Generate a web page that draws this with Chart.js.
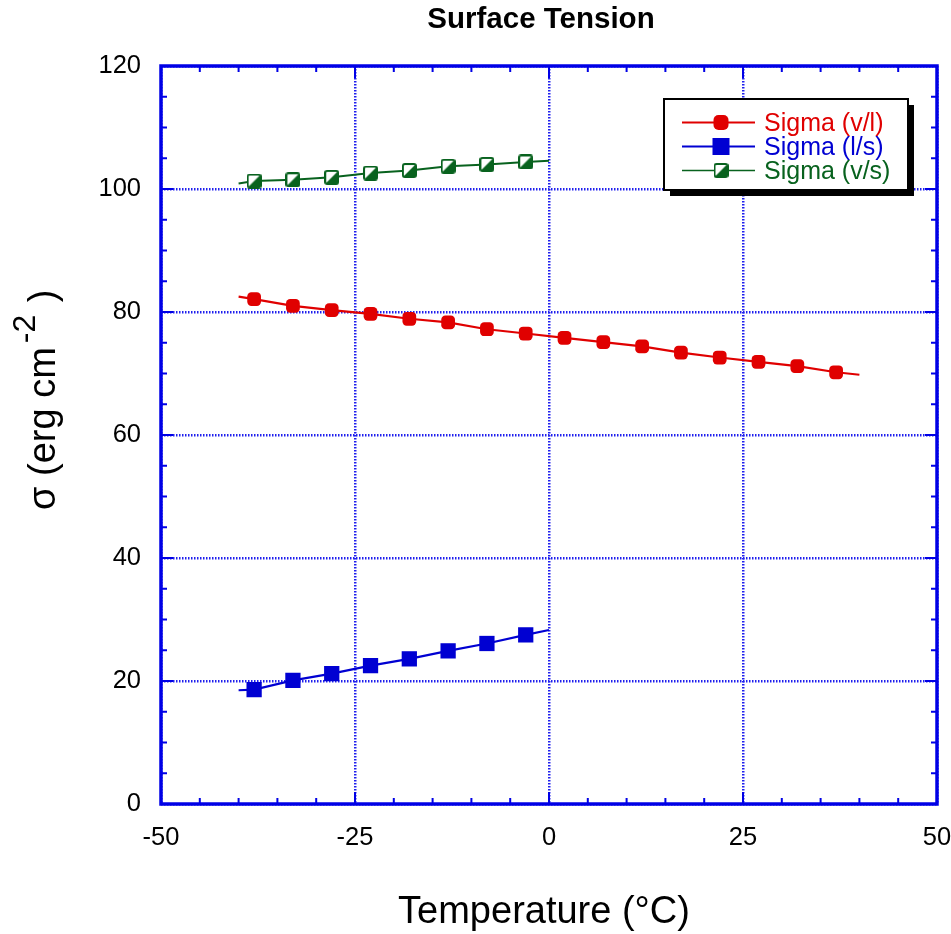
<!DOCTYPE html>
<html>
<head>
<meta charset="utf-8">
<title>Surface Tension</title>
<script src="https://cdn.jsdelivr.net/npm/chart.js@4.4.1/dist/chart.umd.min.js"></script>
<style>
  html, body { margin: 0; padding: 0; background: #fff; }
  #wrap { position: relative; width: 951px; height: 934px; }
</style>
</head>
<body>
<div id="wrap"><canvas id="chart"></canvas></div>
<script>
// Temperatures (°C) of the tabulated points
const tempVL = [-38, -33, -28, -23, -18, -13, -8, -3, 2, 7, 12, 17, 22, 27, 32, 37];
const tempSolid = [-38, -33, -28, -23, -18, -13, -8, -3];

// Surface tension, erg cm^-2
const sigmaVL = [82.1, 81.0, 80.3, 79.7, 78.9, 78.3, 77.2, 76.5, 75.8, 75.1, 74.4, 73.4, 72.6, 71.9, 71.2, 70.2];
const sigmaLS = [18.6, 20.1, 21.2, 22.5, 23.6, 24.9, 26.1, 27.5];
const sigmaVS = [101.3, 101.5, 101.9, 102.6, 103.0, 103.7, 104.0, 104.4];

// End points of the fitted curves [temperature, sigma]
const fitEndsVL = [[-40, 82.5], [40, 69.8]];
const fitEndsLS = [[-40, 18.5], [0, 28.3]];
const fitEndsVS = [[-40, 100.9], [0, 104.6]];

const seriesLabels = ['Sigma (v/l)', 'Sigma (l/s)', 'Sigma (v/s)'];
const xTicks = [-50, -25, 0, 25, 50];
const yTicks = [0, 20, 40, 60, 80, 100, 120];

const RED = '#e00000';
const BLUE = '#0000d2';
const GREEN = '#08621e';
const AXIS_BLUE = '#0000e6';
const FONT = '"Liberation Sans", Arial, Helvetica, sans-serif';

function toPoints(xs, ys) {
    return xs.map((x, i) => ({ x: x, y: ys[i] }));
}

// curve = first end, the tabulated points, last end
function fitCurve(ends, xs, ys) {
    return [{ x: ends[0][0], y: ends[0][1] }]
        .concat(toPoints(xs, ys))
        .concat([{ x: ends[1][0], y: ends[1][1] }]);
}

// Square marker, white upper-left half and filled lower-right half
function halfSquare(color, side) {
    const c = document.createElement('canvas');
    c.width = side;
    c.height = side;
    const g = c.getContext('2d');
    const p = 1;
    g.fillStyle = '#fff';
    g.fillRect(p, p, side - 2 * p, side - 2 * p);
    g.fillStyle = color;
    g.beginPath();
    g.moveTo(side - p, p);
    g.lineTo(side - p, side - p);
    g.lineTo(p, side - p);
    g.closePath();
    g.fill();
    g.strokeStyle = color;
    g.lineWidth = 2;
    g.beginPath();
    g.roundRect(p, p, side - 2 * p, side - 2 * p, 2);
    g.stroke();
    return c;
}

const vsMarker = halfSquare(GREEN, 15);
const vsMarkerLegend = halfSquare(GREEN, 15);

// Frame, inward ticks on all four sides, titles and the boxed legend
const decorPlugin = {
    id: 'decor',
    afterDatasetsDraw(chart) {
        const ctx = chart.ctx;
        const a = chart.chartArea;
        const xs = chart.scales.x;
        const ys = chart.scales.y;

        ctx.save();
        ctx.strokeStyle = AXIS_BLUE;
        ctx.lineWidth = 2;
        ctx.beginPath();
        for (let v = xs.min; v <= xs.max; v += 5) {
            const px = xs.getPixelForValue(v);
            const len = (v % 25 === 0) ? 12 : 6;
            ctx.moveTo(px, a.bottom); ctx.lineTo(px, a.bottom - len);
            ctx.moveTo(px, a.top); ctx.lineTo(px, a.top + len);
        }
        for (let v = ys.min; v <= ys.max; v += 5) {
            const py = ys.getPixelForValue(v);
            const len = (v % 20 === 0) ? 12 : 6;
            ctx.moveTo(a.left, py); ctx.lineTo(a.left + len, py);
            ctx.moveTo(a.right, py); ctx.lineTo(a.right - len, py);
        }
        ctx.stroke();

        ctx.lineWidth = 3.5;
        ctx.strokeRect(a.left, a.top, a.right - a.left, a.bottom - a.top);
        ctx.restore();
    },
    afterDraw(chart) {
        const ctx = chart.ctx;
        ctx.save();
        ctx.fillStyle = '#000';
        ctx.textAlign = 'center';
        ctx.textBaseline = 'alphabetic';

        ctx.font = 'bold 29.5px ' + FONT;
        ctx.fillText('Surface Tension', 541, 28);

        ctx.font = '38px ' + FONT;
        ctx.fillText('Temperature (\u00B0C)', 544, 923);

        // y title with superscript, read bottom to top
        ctx.translate(55, 510);
        ctx.rotate(-Math.PI / 2);
        ctx.textAlign = 'left';
        const main = '\u03C3 (erg cm';
        ctx.font = '38px ' + FONT;
        ctx.fillText(main, 0, 0);
        let w = ctx.measureText(main).width + 4;
        ctx.font = '32px ' + FONT;
        ctx.fillText('-2', w, -20);
        w += ctx.measureText('-2').width + 2;
        ctx.font = '38px ' + FONT;
        ctx.fillText(' )', w, 0);
        ctx.restore();

        drawLegend(ctx);
    }
};

function drawLegend(ctx) {
    const box = { x: 664, y: 99, w: 244, h: 91 };
    ctx.save();
    ctx.fillStyle = '#000';
    ctx.fillRect(box.x + 6, box.y + 6, box.w, box.h);
    ctx.fillStyle = '#fff';
    ctx.fillRect(box.x, box.y, box.w, box.h);
    ctx.strokeStyle = '#000';
    ctx.lineWidth = 2;
    ctx.strokeRect(box.x, box.y, box.w, box.h);

    const colors = [RED, BLUE, GREEN];
    const rows = [122.5, 146.5, 170.5];
    ctx.font = '25px ' + FONT;
    ctx.textBaseline = 'alphabetic';
    ctx.textAlign = 'left';
    rows.forEach((ry, i) => {
        ctx.strokeStyle = colors[i];
        ctx.lineWidth = i === 2 ? 1.6 : 2;
        ctx.beginPath();
        ctx.moveTo(682, ry);
        ctx.lineTo(755, ry);
        ctx.stroke();

        const mx = 721;
        ctx.fillStyle = colors[i];
        if (i === 0) {
            ctx.beginPath();
            ctx.roundRect(mx - 7.5, ry - 7.5, 15, 15, 5);
            ctx.fill();
        } else if (i === 1) {
            ctx.fillRect(mx - 8.5, ry - 8.5, 17, 17);
        } else {
            ctx.drawImage(vsMarkerLegend, mx - 7.5, ry - 7.5);
        }
        ctx.fillStyle = colors[i];
        ctx.fillText(seriesLabels[i], 764, ry + 8.5);
    });
    ctx.restore();
}

const gridOpts = {
    color: '#2020ee',
    lineWidth: 2.5,
    drawTicks: false
};
const tickFont = { family: FONT, size: 25.5 };

new Chart(document.getElementById('chart'), {
    type: 'scatter',
    data: {
        datasets: [
            {
                label: seriesLabels[0],
                data: toPoints(tempVL, sigmaVL),
                showLine: false,
                pointStyle: 'rectRounded',
                pointRadius: 8,
                pointBackgroundColor: RED,
                pointBorderWidth: 0,
                order: 0
            },
            {
                label: seriesLabels[1],
                data: toPoints(tempSolid, sigmaLS),
                showLine: false,
                pointStyle: 'rect',
                pointRadius: 10.8,
                pointBackgroundColor: BLUE,
                pointBorderWidth: 0,
                order: 0
            },
            {
                label: seriesLabels[2],
                data: toPoints(tempSolid, sigmaVS),
                showLine: false,
                pointStyle: vsMarker,
                pointRadius: 7,
                order: 0
            },
            {
                label: 'fit v/l',
                data: fitCurve(fitEndsVL, tempVL, sigmaVL),
                showLine: true,
                borderColor: RED,
                borderWidth: 2.2,
                pointRadius: 0,
                order: 1
            },
            {
                label: 'fit l/s',
                data: fitCurve(fitEndsLS, tempSolid, sigmaLS),
                showLine: true,
                borderColor: BLUE,
                borderWidth: 2.2,
                pointRadius: 0,
                order: 1
            },
            {
                label: 'fit v/s',
                data: fitCurve(fitEndsVS, tempSolid, sigmaVS),
                showLine: true,
                borderColor: GREEN,
                borderWidth: 2,
                pointRadius: 0,
                order: 1
            }
        ]
    },
    options: {
        responsive: true,
        maintainAspectRatio: false,
        animation: false,
        layout: { padding: { left: 0, top: 66, right: 14, bottom: 0 } },
        plugins: {
            legend: { display: false },
            title: { display: false },
            tooltip: { enabled: false }
        },
        scales: {
            x: {
                type: 'linear',
                min: xTicks[0],
                max: xTicks[xTicks.length - 1],
                afterBuildTicks: s => { s.ticks = xTicks.map(v => ({ value: v })); },
                afterFit: s => { s.height = 130; s.paddingLeft = 0; s.paddingRight = 0; },
                grid: gridOpts,
                border: { display: false, dash: [1.5, 1.5] },
                ticks: {
                    font: tickFont,
                    color: '#000',
                    padding: 19,
                    maxRotation: 0,
                    autoSkip: false
                }
            },
            y: {
                type: 'linear',
                min: yTicks[0],
                max: yTicks[yTicks.length - 1],
                afterBuildTicks: s => { s.ticks = yTicks.map(v => ({ value: v })); },
                afterFit: s => { s.width = 161; s.paddingTop = 0; s.paddingBottom = 0; },
                grid: gridOpts,
                border: { display: false, dash: [1.5, 1.5] },
                ticks: {
                    font: tickFont,
                    color: '#000',
                    padding: 20,
                    autoSkip: false
                }
            }
        }
    },
    plugins: [decorPlugin]
});
</script>
</body>
</html>
